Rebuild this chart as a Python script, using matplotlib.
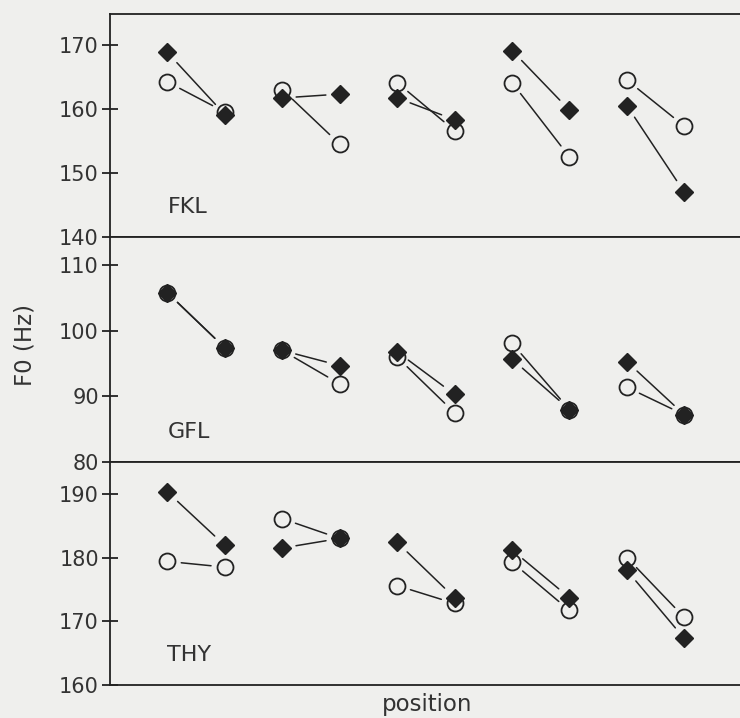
import matplotlib
matplotlib.use("Agg")
import matplotlib.pyplot as plt

# x positions: left member and right member of each pair
x_left = [1, 3, 5, 7, 9]
x_right = [2, 4, 6, 8, 10]

# FKL
fkl_diam_l = [168.8, 161.7, 161.7, 169.1, 160.5]
fkl_diam_r = [159.1, 162.3, 158.3, 159.8, 147.0]
fkl_circ_l = [164.2, 163.0, 164.1, 164.1, 164.5]
fkl_circ_r = [159.5, 154.5, 156.6, 152.5, 157.3]

# GFL
gfl_diam_l = [105.8, 97.0, 96.8, 95.7, 95.3]
gfl_diam_r = [97.4, 94.7, 90.3, 88.0, 87.2]
gfl_circ_l = [105.8, 97.0, 96.0, 98.1, 91.4]
gfl_circ_r = [97.4, 91.9, 87.5, 88.0, 87.2]

# THY
thy_diam_l = [190.3, 181.5, 182.4, 181.2, 178.0]
thy_diam_r = [181.9, 183.0, 173.7, 173.7, 167.3]
thy_circ_l = [179.4, 186.1, 175.6, 179.3, 180.0]
thy_circ_r = [178.5, 183.0, 172.8, 171.7, 170.6]

panels = [
    ("FKL", fkl_diam_l, fkl_diam_r, fkl_circ_l, fkl_circ_r, (140, 174.8), [140, 150, 160, 170]),
    ("GFL", gfl_diam_l, gfl_diam_r, gfl_circ_l, gfl_circ_r, (80, 114.3), [80, 90, 100, 110]),
    ("THY", thy_diam_l, thy_diam_r, thy_circ_l, thy_circ_r, (160, 195), [160, 170, 180, 190]),
]

bg = '#efefed'
ink = '#222222'
plt.rcParams['font.family'] = ['DejaVu Sans']

fig = plt.figure(figsize=(7.4, 7.18), dpi=100, facecolor=bg)

W, H = 740.0, 718.0
left = 110 / W
tops = [14, 237, 462]
bottoms = [237, 462, 685]

for (name, dl, dr, cl, cr, ylim, ticks), t, b in zip(panels, tops, bottoms):
    ax = fig.add_axes([left, 1 - b / H, 1 - left, (b - t) / H])
    ax.set_facecolor(bg)
    ax.set_xlim(0, 10.97)
    ax.set_ylim(*ylim)
    ax.set_yticks(ticks)
    ax.set_xticks([])
    ax.spines['right'].set_visible(False)
    for s in ['left', 'top', 'bottom']:
        ax.spines[s].set_color(ink)
        ax.spines[s].set_linewidth(1.3)
    ax.tick_params(axis='y', direction='inout', length=12, width=1.3,
                   color=ink, labelcolor='#333333', labelsize=15, pad=2)

    # connecting lines, shortened so they don't touch the markers
    for i in range(len(x_left)):
        for y0, y1 in [(dl[i], dr[i]), (cl[i], cr[i])]:
            ax.annotate('', xy=(x_right[i], y1), xytext=(x_left[i], y0),
                        arrowprops=dict(arrowstyle='-', color=ink, lw=1.1,
                                        shrinkA=10, shrinkB=10))

    ax.plot(x_left + x_right, cl + cr, linestyle='none', marker='o',
            markersize=11.5, markerfacecolor='none', markeredgecolor=ink,
            markeredgewidth=1.3, zorder=3)
    ax.plot(x_left + x_right, dl + dr, linestyle='none', marker='D',
            markersize=9, color=ink, zorder=4)

    ax.text(1.0, ticks[0] + (ylim[1] - ylim[0]) * 0.135, name,
            fontsize=16, color='#333333', ha='left', va='center')

fig.text(25 / W, 1 - 345 / H, 'F0 (Hz)', rotation=90, fontsize=16.5,
         color='#333333', ha='center', va='center')
fig.text(427 / W, 1 - 705 / H, 'position', fontsize=16.5,
         color='#333333', ha='center', va='center')

fig.savefig('out.png', dpi=100, facecolor=bg)
